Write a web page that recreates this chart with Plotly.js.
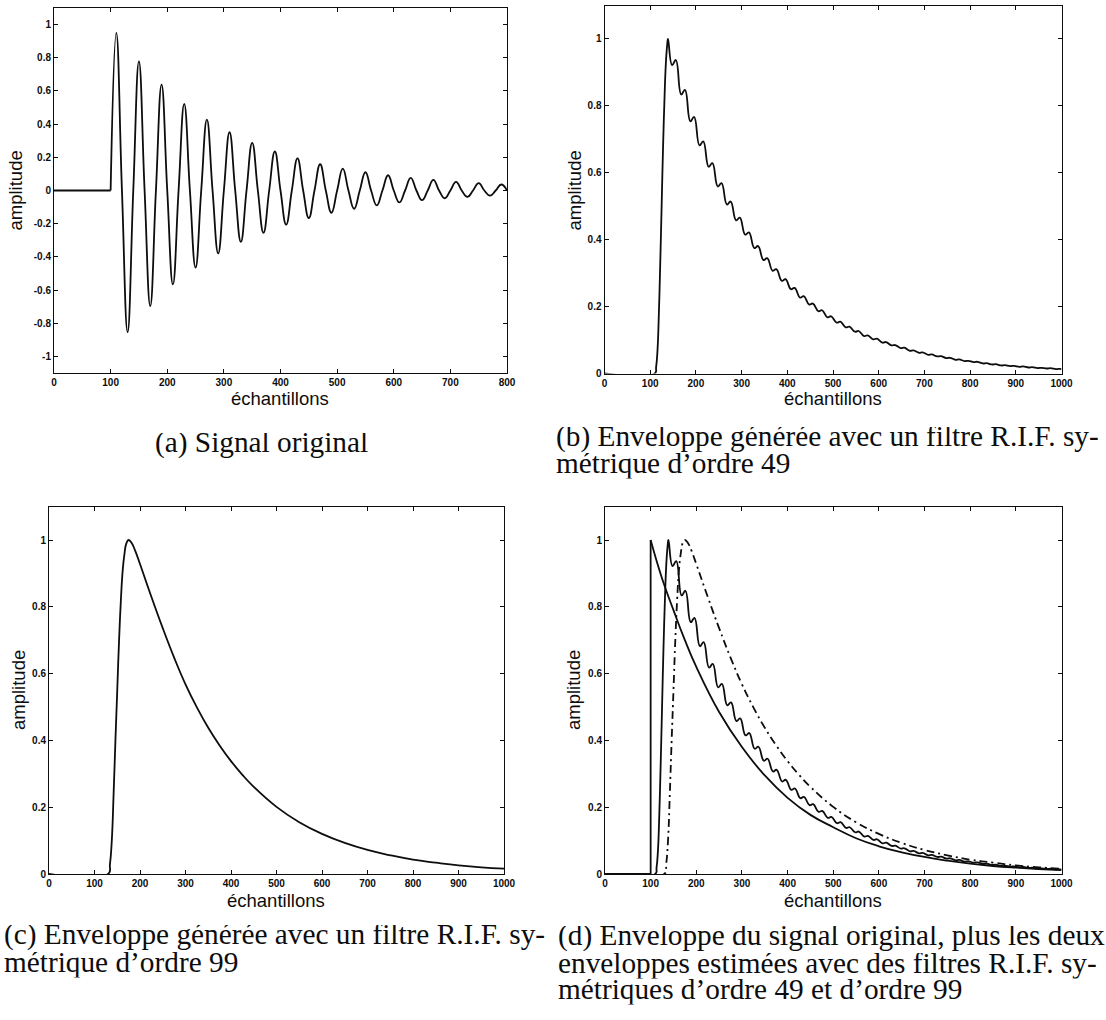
<!DOCTYPE html>
<html>
<head>
<meta charset="utf-8">
<script src="https://cdn.plot.ly/plotly-3.0.1.min.js"></script>
<style>
  html, body { margin: 0; padding: 0; background: #ffffff; }
  #chart { width: 1106px; height: 1020px; }
</style>
</head>
<body>
<div id="chart"></div>
<script>
// ---------- data ----------
// (a) original signal: flat part, then damped oscillation (quarter-period samples)
const sigFlatX = [0, 100];
const sigFlatY = [0, 0];
const sigX = [100,110,120,130,140,150,160,170,180,190,200,210,220,230,240,250,260,270,280,290,300,
              310,320,330,340,350,360,370,380,390,400,410,420,430,440,450,460,470,480,490,500,
              510,520,530,540,550,560,570,580,590,600,610,620,630,640,650,660,670,680,690,700,
              710,720,730,740,750,760,770,780,790,800];
const sigY = [0,0.95,0,-0.853,0,0.778,0,-0.696,0,0.638,0,-0.566,0,0.522,0,-0.465,0,0.427,0,-0.379,0,
              0.351,0,-0.309,0,0.287,0,-0.255,0,0.235,0,-0.205,0,0.193,0,-0.167,0,0.158,0,-0.134,0,
              0.132,0,-0.110,0,0.110,0,-0.090,0,0.092,0,-0.072,0,0.076,0,-0.058,0,0.064,0,-0.047,0,
              0.052,0,-0.039,0,0.045,0,-0.031,0,0.036,0];

// (b) envelope, symmetric FIR order 49 (with ripple)
const env49X = [0,110,113,116,119,122,125,128,131,134,137,139,
  148,156,168,176,188,196,208,216,228,236,248,256,268,276,288,296,308,316,328,336,348,356,368,376,
  388,396,408,416,428,436,448,456,468,476,488,496,508,516,528,536,548,556,568,576,588,596,608,616,
  628,636,648,656,668,676,688,696,708,716,728,736,748,756,768,776,788,796,808,816,828,836,848,856,
  868,876,888,896,908,916,928,936,948,956,968,976,988,996,1000];
const env49Y = [0,0,0.02,0.07,0.18,0.33,0.5,0.67,0.81,0.92,0.98,1.0,
  0.922,0.937,0.834,0.848,0.754,0.767,0.682,0.694,0.618,0.629,0.559,0.569,0.505,0.514,0.458,0.466,
  0.415,0.422,0.375,0.381,0.339,0.345,0.307,0.312,0.277,0.282,0.252,0.256,0.227,0.231,0.206,0.209,
  0.186,0.189,0.168,0.171,0.152,0.155,0.138,0.140,0.125,0.127,0.112,0.114,0.102,0.104,0.092,0.094,
  0.084,0.085,0.076,0.077,0.068,0.069,0.062,0.063,0.056,0.057,0.051,0.052,0.046,0.047,0.041,0.042,
  0.037,0.038,0.034,0.035,0.030,0.031,0.027,0.028,0.024,0.025,0.022,0.023,0.020,0.021,0.018,0.019,
  0.016,0.017,0.015,0.016,0.013,0.014,0.013];

// (c) envelope, symmetric FIR order 99
const env99X = [0,130,134,138,142,146,150,154,158,162,166,170,175,182,190,200,225,250,275,300,325,350,
  375,400,425,450,500,550,600,650,700,750,800,850,900,950,1000];
const env99Y = [0,0,0.03,0.1,0.24,0.4,0.55,0.7,0.82,0.91,0.96,0.99,1.0,0.99,0.966,0.928,0.83,0.736,0.648,
  0.568,0.499,0.438,0.385,0.338,0.297,0.261,0.201,0.155,0.120,0.093,0.072,0.056,0.043,0.034,0.026,0.020,0.016];

// (d) envelope of the original signal
const origX = [0,100,100,125,150,175,200,250,300,350,400,450,500,550,600,650,700,750,800,850,900,950,1000];
const origY = [0,0,1,0.885,0.79,0.70,0.62,0.485,0.38,0.295,0.228,0.177,0.14,0.107,0.083,0.065,0.051,
  0.04,0.031,0.024,0.019,0.015,0.012];

// tick labels
const xTicks800 = [0,100,200,300,400,500,600,700,800];
const xTicks1000 = [0,100,200,300,400,500,600,700,800,900,1000];
const sigTickVals = [-1,-0.8,-0.6,-0.4,-0.2,0,0.2,0.4,0.6,0.8,1];
const sigTickText = ['-1','-0.8','-0.6','-0.4','-0.2','0','0.2','0.4','0.6','0.8','1'];
const envTickVals = [0,0.2,0.4,0.6,0.8,1];
const envTickText = ['0','0.2','0.4','0.6','0.8','1'];

// texts
const yTitle = 'amplitude';
const xTitle = 'échantillons';
const captionA = ['(a) Signal original'];
const captionB = ['(b) Enveloppe générée avec un filtre R.I.F. sy-', 'métrique d’ordre 49'];
const captionC = ['(c) Enveloppe générée avec un filtre R.I.F. sy-', 'métrique d’ordre 99'];
const captionD = ['(d) Enveloppe du signal original, plus les deux',
                  'enveloppes estimées avec des filtres R.I.F. sy-',
                  'métriques d’ordre 49 et d’ordre 99'];

// ---------- drawing ----------
const W = 1106, H = 1020;
const px = v => v / W;
const py = v => 1 - v / H;
const INK = '#0d0d0d';
const lineW = 1.8;

function curve(x, y, xa, ya, shape, dash) {
  return { type: 'scatter', mode: 'lines', x: x, y: y, xaxis: xa, yaxis: ya,
           line: { color: INK, width: lineW, shape: shape || 'spline', smoothing: 1.3, dash: dash || 'solid' },
           hoverinfo: 'skip' };
}

const traces = [
  curve(sigFlatX, sigFlatY, 'x', 'y', 'linear'),
  curve(sigX, sigY, 'x', 'y', 'spline'),
  curve(env49X, env49Y, 'x2', 'y2', 'spline'),
  curve(env99X, env99Y, 'x3', 'y3', 'spline'),
  curve(origX.slice(0, 3), origY.slice(0, 3), 'x4', 'y4', 'linear'),
  curve(origX.slice(2), origY.slice(2), 'x4', 'y4', 'spline'),
  curve(env49X, env49Y, 'x4', 'y4', 'spline'),
  curve(env99X, env99Y, 'x4', 'y4', 'spline', '8px,4px,2px,4px')
];

const tickFont = { family: 'Liberation Sans, Arial, sans-serif', size: 10, color: INK, weight: 700 };

function xAxis(domPx, anchor, ticks, maxv) {
  return { domain: [px(domPx[0]), px(domPx[1])], anchor: anchor, range: [0, maxv],
           tickmode: 'array', tickvals: ticks, ticktext: ticks.map(String),
           ticks: 'inside', ticklen: 4, tickwidth: 1, tickcolor: INK,
           showline: true, linecolor: INK, linewidth: 1, mirror: 'allticks',
           showgrid: false, zeroline: false, tickfont: tickFont, fixedrange: true };
}
function yAxis(domPx, anchor, vals, text, range) {
  return { domain: [py(domPx[1]), py(domPx[0])], anchor: anchor, range: range,
           tickmode: 'array', tickvals: vals, ticktext: text,
           ticks: 'inside', ticklen: 4, tickwidth: 1, tickcolor: INK,
           showline: true, linecolor: INK, linewidth: 1, mirror: 'allticks',
           showgrid: false, zeroline: false, tickfont: tickFont, fixedrange: true };
}

const titleFont = { family: 'Liberation Sans, Arial, sans-serif', size: 18.5, color: INK };
const capFont = { family: 'Liberation Serif, Times New Roman, serif', size: 29.3, color: INK };

const annotations = [];
function ann(text, x, y, font, opts) {
  annotations.push(Object.assign({ text: text, x: px(x), y: py(y), xref: 'paper', yref: 'paper',
    showarrow: false, font: font, xanchor: 'center', yanchor: 'middle' }, opts || {}));
}
// axis titles
ann(yTitle, 15, 190.5, titleFont, { textangle: -90 });
ann(yTitle, 574, 190.5, titleFont, { textangle: -90 });
ann(yTitle, 18, 690, titleFont, { textangle: -90 });
ann(yTitle, 573, 690, titleFont, { textangle: -90 });
ann(xTitle, 280, 398.3, titleFont);
ann(xTitle, 833, 398.3, titleFont);
ann(xTitle, 276, 900, titleFont);
ann(xTitle, 833, 900, titleFont);
// captions (tight line boxes so that stacked lines keep the reference spacing)
const capOpts = { height: 25.5, valign: 'bottom', borderpad: 0 };
ann(captionA[0], 261, 446, capFont, capOpts);
[440, 466.5].forEach((yy, i) => ann(captionB[i], 555, yy, capFont, Object.assign({ xanchor: 'left' }, capOpts)));
[938, 964.5].forEach((yy, i) => ann(captionC[i], 3, yy, capFont, Object.assign({ xanchor: 'left' }, capOpts)));
[939, 965.5, 992].forEach((yy, i) => ann(captionD[i], 557, yy, capFont, Object.assign({ xanchor: 'left' }, capOpts)));

const layout = {
  width: W, height: H, margin: { l: 0, r: 0, t: 0, b: 0 },
  paper_bgcolor: '#ffffff', plot_bgcolor: '#ffffff', showlegend: false,
  xaxis:  xAxis([54, 507], 'y', xTicks800, 800),
  yaxis:  yAxis([7.9, 373.1], 'x', sigTickVals, sigTickText, [-1.1, 1.1]),
  xaxis2: xAxis([604.5, 1061.5], 'y2', xTicks1000, 1000),
  yaxis2: yAxis([5.5, 373.5], 'x2', envTickVals, envTickText, [0, 1.1]),
  xaxis3: xAxis([49, 504], 'y3', xTicks1000, 1000),
  yaxis3: yAxis([506.6, 874], 'x3', envTickVals, envTickText, [0, 1.1]),
  xaxis4: xAxis([605, 1061.5], 'y4', xTicks1000, 1000),
  yaxis4: yAxis([506.6, 874], 'x4', envTickVals, envTickText, [0, 1.1]),
  annotations: annotations
};

Plotly.newPlot('chart', traces, layout, { staticPlot: true, displayModeBar: false });
</script>
</body>
</html>
